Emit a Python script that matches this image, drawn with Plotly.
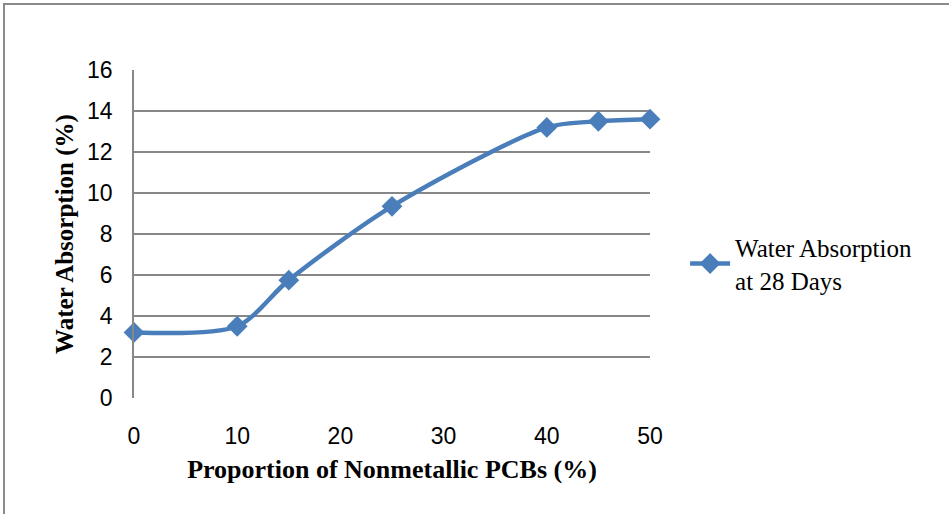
import plotly.graph_objects as go

proportion = [0, 10, 15, 25, 40, 45, 50]
absorption = [3.2, 3.5, 5.75, 9.35, 13.2, 13.5, 13.6]
series_name = "Water Absorption<br>at 28 Days"
y_ticks = [0, 2, 4, 6, 8, 10, 12, 14, 16]
x_ticks = [0, 10, 20, 30, 40, 50]

fig = go.Figure()
fig.add_trace(go.Scatter(
    x=proportion, y=absorption, name=series_name,
    mode="lines+markers", cliponaxis=False,
    line=dict(color="#4A7EBB", width=4.5, shape="spline", smoothing=0.8),
    marker=dict(symbol="diamond", size=16, color="#4A7EBB"),
))

fig.update_layout(
    width=949, height=514,
    margin=dict(l=134, r=299, t=70, b=116),
    paper_bgcolor="white", plot_bgcolor="white",
    showlegend=True,
    legend=dict(x=1.068, y=0.41, xanchor="left", yanchor="middle",
                font=dict(family="Liberation Serif", size=25, color="black"),
                bgcolor="rgba(0,0,0,0)", itemwidth=40),
    xaxis=dict(range=[0, 50], tickvals=x_ticks, showgrid=False, zeroline=False,
               showline=False, ticks="outside", ticklen=17, tickcolor="rgba(0,0,0,0)",
               tickfont=dict(family="Liberation Sans", size=23, color="black"),
               title=dict(text="<b>Proportion of Nonmetallic PCBs (%)</b>",
                          font=dict(family="Liberation Serif", size=26, color="black"),
                          standoff=12)),
    yaxis=dict(range=[0, 16], tickvals=y_ticks, showgrid=True, gridcolor="#878787",
               gridwidth=1.5, zeroline=False, showline=True, linecolor="#878787",
               linewidth=1.5, ticks="outside", ticklen=15, tickcolor="rgba(0,0,0,0)",
               tickfont=dict(family="Liberation Sans", size=23, color="black"),
               title=dict(text="<b>Water Absorption (%)</b>",
                          font=dict(family="Liberation Serif", size=25, color="black"),
                          standoff=6)),
    shapes=[dict(type="rect", xref="paper", yref="paper",
                 x0=(4 - 134) / 516, x1=2.5, y0=-1.0, y1=(398 - 4) / 328,
                 line=dict(color="#8a8a8a", width=2), layer="below")],
)

fig.write_html("out.html")
